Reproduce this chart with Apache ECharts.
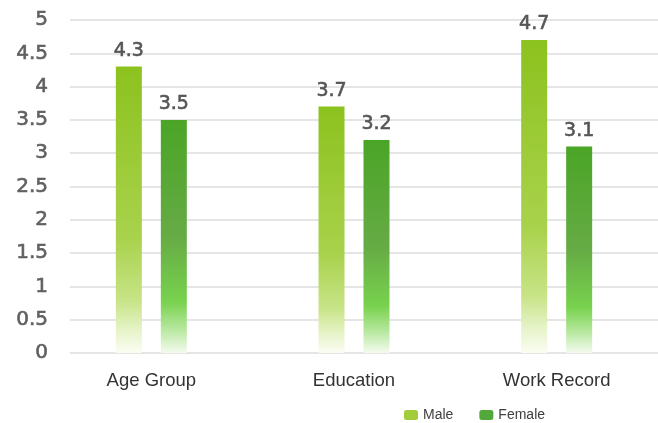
<!DOCTYPE html>
<html><head><meta charset="utf-8">
<script src="https://cdn.jsdelivr.net/npm/echarts@6/dist/echarts.min.js"></script>
<style>html,body{margin:0;padding:0;background:#fff}#c{width:658px;height:423px}</style>
</head><body><div id="c"></div>
<script>
const categories = ['Age Group', 'Education', 'Work Record'];
const maleValues = [4.3, 3.7, 4.7];
const femaleValues = [3.5, 3.2, 3.1];
const yTicks = [0, 0.5, 1, 1.5, 2, 2.5, 3, 3.5, 4, 4.5, 5];

const chart = echarts.init(document.getElementById('c'));
const maleGrad = new echarts.graphic.LinearGradient(0, 0, 0, 1, [
  {offset: 0, color: '#8cc21e'}, {offset: 0.6, color: '#a9d24c'},
  {offset: 0.82, color: '#c8e488'}, {offset: 0.92, color: '#e6f3c8'}, {offset: 1, color: '#fbfdf3'}]);
const femaleGrad = new echarts.graphic.LinearGradient(0, 0, 0, 1, [
  {offset: 0, color: '#4aa526'}, {offset: 0.5, color: '#66ab45'},
  {offset: 0.78, color: '#78d24e'}, {offset: 0.9, color: '#b8e8a0'}, {offset: 1, color: '#f4fbef'}]);
const labelStyle = {show: true, position: 'top', distance: 6, color: '#555', fontSize: 19,
  fontFamily: 'DejaVu Sans', textBorderColor: '#555', textBorderWidth: 0.6};
chart.setOption({
  animation: false,
  backgroundColor: '#fff',
  textStyle: {fontFamily: 'Liberation Sans'},
  legend: {
    top: 403, left: 399, itemWidth: 14, itemHeight: 10, itemGap: 26, padding: 5,
    textStyle: {fontSize: 14, color: '#404040'},
    data: [{name: 'Male', itemStyle: {color: '#a3cc3a'}}, {name: 'Female', itemStyle: {color: '#52a83a'}}]
  },
  grid: [
    {left: 70, right: 0, top: 20, bottom: 70},
    {left: 50, width: 615, top: 20, bottom: 70}
  ],
  xAxis: [
    {gridIndex: 0, type: 'category', data: categories, show: false},
    {gridIndex: 1, type: 'category', data: categories,
     axisLine: {show: false}, axisTick: {show: false},
     axisLabel: {color: '#333', fontSize: 18.5, margin: 18}}
  ],
  yAxis: [
    {gridIndex: 0, type: 'value', min: 0, max: 5, interval: 0.5,
     axisLine: {show: false}, axisTick: {show: false},
     axisLabel: {color: '#606060', fontSize: 20, fontFamily: 'DejaVu Sans', margin: 22,
       textBorderColor: '#606060', textBorderWidth: 0.6,
       formatter: v => yTicks.includes(v) ? String(v) : ''},
     splitLine: {lineStyle: {color: '#dcdcdc', width: 1.5}}},
    {gridIndex: 1, type: 'value', min: 0, max: 5, interval: 0.5, show: false, splitLine: {show: false}}
  ],
  series: [
    {name: 'Male', type: 'bar', xAxisIndex: 1, yAxisIndex: 1, data: maleValues,
     barWidth: 26, barGap: '73%', itemStyle: {color: maleGrad}, label: labelStyle},
    {name: 'Female', type: 'bar', xAxisIndex: 1, yAxisIndex: 1, data: femaleValues,
     barWidth: 26, barGap: '73%', itemStyle: {color: femaleGrad}, label: labelStyle}
  ]
});
</script></body></html>
